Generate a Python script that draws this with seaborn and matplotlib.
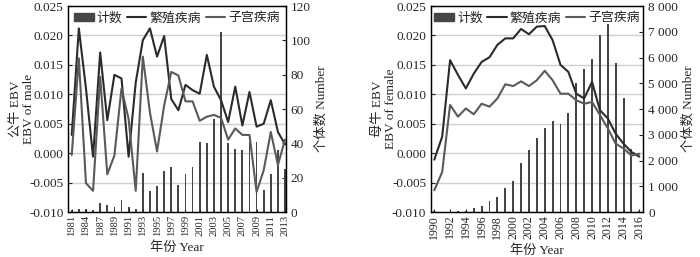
import matplotlib
matplotlib.use('Agg')
import matplotlib.pyplot as plt
import matplotlib.ticker as mticker
from matplotlib.lines import Line2D
from matplotlib.patches import Patch
import numpy as np
import pandas as pd
import seaborn as sns

# 绘图风格
sns.set_style('ticks')
plt.rcParams['font.family'] = ['Liberation Serif', 'Noto Sans CJK SC']
plt.rcParams['axes.unicode_minus'] = True

# ---- 公牛 (male) ----
years_male = [1981, 1983, 1984, 1986, 1987, 1988, 1989, 1990, 1991, 1992, 1993,
              1994, 1995, 1996, 1997, 1998, 1999, 2000, 2001, 2002, 2003,
              2004, 2005, 2006, 2007, 2008, 2009, 2010, 2011, 2012, 2013]
count_male = [1, 2, 2, 1, 5, 4, 3, 7, 3, 2, 23,
              12, 15, 24, 26, 16, 22, 26, 41, 40, 54,
              105, 40, 37, 36, 41, 41, 13, 22, 36, 25]
repro_male = [0.0031, 0.0212, 0.0110, -0.0006, 0.0171, 0.0056, 0.0133, 0.0127, -0.0006, 0.0120, 0.0192,
              0.0212, 0.0164, 0.0199, 0.0092, 0.0073, 0.0116, 0.0107, 0.0101, 0.0167, 0.0113,
              0.0090, 0.0053, 0.0113, 0.0047, 0.0104, 0.0045, 0.0050, 0.0090, 0.0036, 0.0015]
uterus_male = [-0.0003, 0.0161, -0.0051, -0.0064, 0.0130, -0.0036, -0.0004, 0.0110, 0.0058, -0.0064, 0.0164,
               0.0069, 0.0003, 0.0081, 0.0138, 0.0132, 0.0088, 0.0088, 0.0055, 0.0062, 0.0065,
               0.0060, 0.0023, 0.0042, 0.0031, 0.0031, -0.0066, -0.0029, 0.0036, -0.0020, 0.0023]

# ---- 母牛 (female) ----
years_female = [1990, 1991, 1992, 1993, 1994, 1995, 1996, 1997, 1998, 1999, 2000,
                2001, 2002, 2003, 2004, 2005, 2006, 2007, 2008, 2009, 2010,
                2011, 2012, 2013, 2014, 2015, 2016]
count_female = [30, 20, 20, 30, 40, 140, 230, 425, 570, 945, 1190,
                1915, 2410, 2860, 3280, 3540, 3430, 3830, 5020, 5540, 5930,
                6870, 7300, 5800, 4440, 2435, 40]
repro_female = [-0.0011, 0.0028, 0.0158, 0.0133, 0.0110, 0.0135, 0.0155, 0.0163, 0.0184, 0.0195, 0.0195,
                0.0211, 0.0202, 0.0215, 0.0216, 0.0192, 0.0150, 0.0138, 0.0101, 0.0093, 0.0121,
                0.0073, 0.0059, 0.0033, 0.0016, 0.0002, -0.0006]
uterus_female = [-0.0063, -0.0032, 0.0082, 0.0062, 0.0076, 0.0066, 0.0084, 0.0079, 0.0093, 0.0117, 0.0114,
                 0.0122, 0.0114, 0.0124, 0.0140, 0.0124, 0.0101, 0.0101, 0.0090, 0.0084, 0.0087,
                 0.0065, 0.0042, 0.0016, 0.0008, -0.0004, -0.0001]

legend_labels = ['计数', '繁殖疾病', '子宫疾病']

BAR_C = '#454545'
REPRO_C = '#2b2b2b'
UTER_C = '#5a5a5a'
GRID_C = '#d0d0d0'
FS = 9.5


def draw_panel(fig, rect, years, counts, repro, uterus, ylabel, cmax, cstep,
               xlim, xfs, thousands=False):
    ax = fig.add_axes(rect)
    ax2 = ax.twinx()
    df = pd.DataFrame({'year': [str(y) for y in years],
                       'pos': np.arange(len(years)),
                       'count': counts, 'repro': repro, 'uterus': uterus})

    # 柱子画在右轴
    sns.barplot(data=df, x='year', y='count', ax=ax2, color=BAR_C,
                width=0.25, saturation=1, linewidth=0)
    # 折线画在左轴
    sns.lineplot(data=df, x='pos', y='repro', ax=ax, color=REPRO_C, lw=1.5)
    sns.lineplot(data=df, x='pos', y='uterus', ax=ax, color=UTER_C, lw=1.5)

    ax.set_zorder(ax2.get_zorder() + 1)
    ax.patch.set_visible(False)

    ax.set_ylim(-0.010, 0.025)
    ax.set_yticks(np.arange(-0.010, 0.0251, 0.005))
    ax.yaxis.set_major_formatter(mticker.FormatStrFormatter('%.3f'))
    ax2.set_ylim(0, cmax)
    ax2.set_yticks(np.arange(0, cmax + 1, cstep))
    if thousands:
        ax2.yaxis.set_major_formatter(
            mticker.FuncFormatter(lambda v, p: f"{int(v):,}".replace(',', ' ')))

    # 网格线放在柱子后面
    for v in ax.get_yticks()[1:-1]:
        ax2.add_line(Line2D([0, 1], [v, v], transform=ax.get_yaxis_transform(),
                            color=GRID_C, lw=1.0, zorder=0))

    n = len(years)
    ax.set_xlim(*xlim)
    ax.set_xticks(np.arange(0, n, 2))
    ax.set_xticklabels([str(years[i]) for i in range(0, n, 2)], rotation=90,
                       fontsize=xfs)

    ax.tick_params(axis='y', direction='in', length=3, labelsize=FS)
    ax.tick_params(axis='x', direction='in', length=2, pad=2)
    ax2.tick_params(axis='y', direction='in', length=3, labelsize=FS)

    ax.set_xlabel('年份 Year', fontsize=FS, labelpad=4)
    ax.set_ylabel(ylabel, fontsize=FS, linespacing=1.1, labelpad=-4)
    ax2.set_ylabel('个体数 Number', fontsize=FS, labelpad=3)
    ax2.set_xlabel('')

    for a in (ax, ax2):
        for s in a.spines.values():
            s.set_color('black')
            s.set_linewidth(0.9)

    handles = [Patch(color=BAR_C),
               Line2D([], [], color=REPRO_C, lw=1.5),
               Line2D([], [], color=UTER_C, lw=1.5)]
    ax.legend(handles, legend_labels, ncol=3, loc='upper center', frameon=False,
              fontsize=9.3, handlelength=1.5, handleheight=0.6,
              handletextpad=0.25, columnspacing=0.35, borderaxespad=0.05)
    return ax, ax2


fig = plt.figure(figsize=(7.0, 2.57), dpi=100)

draw_panel(fig, [0.0976, 0.175, 0.3106, 0.8016], years_male, count_male,
           repro_male, uterus_male, '公牛 EBV\nEBV of male', 120, 20,
           (-0.48, 30.1), 7.6)
draw_panel(fig, [0.6157, 0.175, 0.3033, 0.8016], years_female, count_female,
           repro_female, uterus_female, '母牛 EBV\nEBV of female', 8000, 1000,
           (-0.42, 26.5), 8.6, thousands=True)

fig.savefig('out.png', dpi=100)
